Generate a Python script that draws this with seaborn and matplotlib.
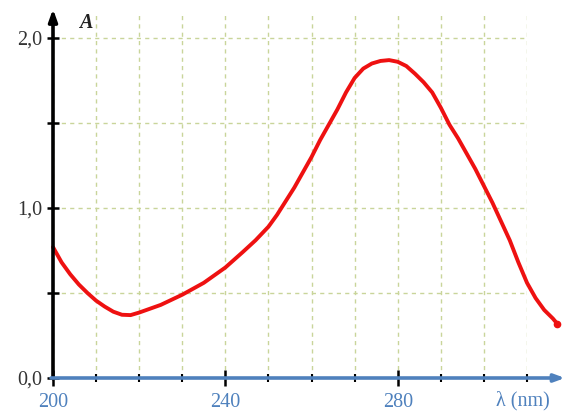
import matplotlib
matplotlib.use("Agg")
import matplotlib.pyplot as plt
import seaborn as sns
import pandas as pd
from matplotlib.ticker import FixedLocator

# ---- data ----
wavelength = [200, 202, 204, 206, 208, 210, 212, 214, 216, 218, 220, 225, 230, 235,
              240, 244, 247, 250, 252, 254, 256, 258, 260, 262, 264, 266, 268, 270,
              272, 274, 276, 278, 280, 282, 284, 286, 288, 290, 292, 294, 296, 298,
              300, 302, 304, 306, 308, 310, 312, 314, 316, 317]
absorbance = [0.77, 0.68, 0.61, 0.55, 0.50, 0.455, 0.42, 0.39, 0.372, 0.37, 0.385,
              0.43, 0.49, 0.56, 0.65, 0.74, 0.81, 0.89, 0.96, 1.04, 1.12, 1.21, 1.30,
              1.40, 1.49, 1.58, 1.68, 1.765, 1.82, 1.85, 1.865, 1.87, 1.86, 1.835,
              1.79, 1.74, 1.68, 1.59, 1.49, 1.41, 1.32, 1.23, 1.13, 1.03, 0.92, 0.81,
              0.68, 0.56, 0.47, 0.40, 0.35, 0.32]
x_major = [200, 240, 280]
x_minor = [210, 220, 230, 250, 260, 270, 290, 300, 310]
y_major = [0.0, 1.0, 2.0]
y_minor = [0.5, 1.5]
y_labels = ["0,0", "1,0", "2,0"]

df = pd.DataFrame({"wl": wavelength, "A": absorbance})

sns.set_style("white")
plt.rcParams["font.family"] = ["Liberation Serif", "DejaVu Serif"]

W, H = 565, 412
fig = plt.figure(figsize=(W / 100, H / 100), dpi=100)
ax = fig.add_axes([53 / W, (H - 378) / H, 474 / W, 366 / H])
ax.set_xlim(200, 310)
ax.set_ylim(0, 366 / 170)

grid_col = "#c9d59a"
blue = "#4f81bd"

ax.xaxis.set_major_locator(FixedLocator(x_major))
ax.xaxis.set_minor_locator(FixedLocator(x_minor))
ax.yaxis.set_major_locator(FixedLocator(y_major))
ax.yaxis.set_minor_locator(FixedLocator(y_minor))
ax.set_yticklabels(y_labels)
ax.grid(True, which="both", color=grid_col, linestyle=(0, (3, 3)), linewidth=1.0)
ax.set_axisbelow(True)

for s in ax.spines.values():
    s.set_visible(False)

ax.tick_params(axis="x", which="both", bottom=True, top=False)
ax.tick_params(axis="y", which="both", left=True, right=False)
ax.tick_params(axis="x", which="major", direction="inout", length=11, width=1.8,
               color="black", labelcolor=blue, labelsize=14.5, pad=5)
ax.tick_params(axis="x", which="minor", direction="inout", length=6, width=1.5,
               color="black")
ax.tick_params(axis="y", which="both", direction="inout", length=9, width=1.8,
               color="black", labelcolor="#333333", labelsize=14.5, pad=3)

# curve
sns.lineplot(data=df, x="wl", y="A", ax=ax, color="#ee1111", linewidth=2.8,
             sort=False, estimator=None)
for ln in ax.lines:
    ln.set_clip_on(False)
    ln.set_solid_capstyle("round")
    ln.set_solid_joinstyle("round")
ax.plot(df["wl"].iloc[-1], df["A"].iloc[-1], "o", color="#ee1111", ms=4.5, clip_on=False)
ax.set_xlabel("")
ax.set_ylabel("")

# axes with arrows
ax.annotate("", xy=(0, 1.0 + 3 / 366), xycoords="axes fraction", xytext=(0, -0.002),
            textcoords="axes fraction",
            arrowprops=dict(arrowstyle="-|>,head_length=0.7,head_width=0.25",
                            color="black", lw=2.6, shrinkA=0, shrinkB=0))
ax.annotate("", xy=((W - 53) / 474, 0), xycoords="axes fraction", xytext=(-0.004, 0),
            textcoords="axes fraction",
            arrowprops=dict(arrowstyle="-|>,head_length=0.6,head_width=0.22",
                            color=blue, lw=2.6, shrinkA=0, shrinkB=0))

ax.text(309, -0.135, "λ (nm)", color=blue, fontsize=14.5, ha="center", va="center",
        clip_on=False)
ax.text(207.5, 2.09, "A", fontsize=14.5, fontweight="bold", fontstyle="italic",
        ha="center", va="center", color="#222222", clip_on=False)

fig.savefig("out.png", dpi=100)
